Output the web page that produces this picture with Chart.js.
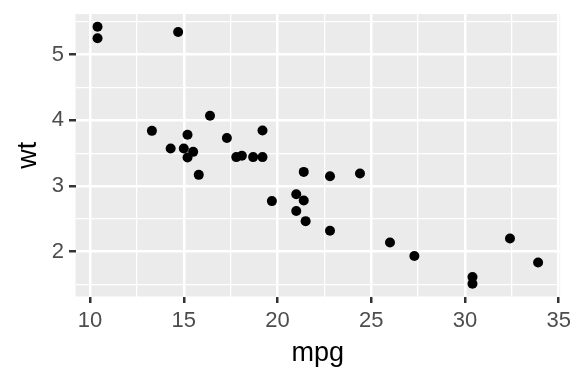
<!DOCTYPE html>
<html>
<head>
<meta charset="utf-8">
<script src="https://cdn.jsdelivr.net/npm/chart.js@4"></script>
<style>
  html, body { margin: 0; padding: 0; background: #fff; }
  #wrap { width: 576px; height: 384px; }
</style>
</head>
<body>
<div id="wrap"><canvas id="c" width="576" height="384"></canvas></div>
<script>
  // mtcars: mpg vs wt
  const mpg = [21.0, 21.0, 22.8, 21.4, 18.7, 18.1, 14.3, 24.4, 22.8, 19.2, 17.8, 16.4, 17.3, 15.2, 10.4, 10.4,
               14.7, 32.4, 30.4, 33.9, 21.5, 15.5, 15.2, 13.3, 19.2, 27.3, 26.0, 30.4, 15.8, 19.7, 15.0, 21.4];
  const wt = [2.620, 2.875, 2.320, 3.215, 3.440, 3.460, 3.570, 3.190, 3.150, 3.440, 3.440, 4.070, 3.730, 3.780, 5.250, 5.424,
              5.345, 2.200, 1.615, 1.835, 2.465, 3.520, 3.435, 3.840, 3.845, 1.935, 2.140, 1.513, 3.170, 2.770, 3.570, 2.780];

  const xMajor = [10, 15, 20, 25, 30, 35];
  const xMinor = [12.5, 17.5, 22.5, 27.5, 32.5];
  const yMajor = [2, 3, 4, 5];
  const yMinor = [1.5, 2.5, 3.5, 4.5, 5.5];

  const xMin = 9.225, xMax = 35.075;
  const yMin = 1.3175, yMax = 5.6195;

  const points = mpg.map((m, i) => ({ x: m, y: wt[i] }));

  const panelBg = {
    id: 'panelBg',
    beforeDraw(chart) {
      const a = chart.chartArea, ctx = chart.ctx;
      ctx.save();
      ctx.fillStyle = '#EBEBEB';
      ctx.fillRect(a.left, a.top, a.right - a.left, a.bottom - a.top);
      ctx.restore();
    }
  };

  function gridOpts(major) {
    const isMajor = ctx => ctx.tick && major.includes(ctx.tick.value);
    return {
      color: '#FFFFFF',
      lineWidth: ctx => isMajor(ctx) ? 2.5 : 1.25,
      tickColor: ctx => isMajor(ctx) ? '#333333' : 'rgba(0,0,0,0)',
      tickWidth: 2.5,
      tickLength: 6.5,
      drawTicks: true
    };
  }

  new Chart(document.getElementById('c'), {
    type: 'scatter',
    data: {
      datasets: [{
        data: points,
        backgroundColor: '#000000',
        borderWidth: 0,
        pointRadius: 5,
        pointHoverRadius: 5
      }]
    },
    options: {
      responsive: false,
      animation: false,
      devicePixelRatio: 1,
      layout: { padding: { top: 14, right: 15.6, left: 0, bottom: 0 } },
      plugins: { legend: { display: false }, tooltip: { enabled: false } },
      scales: {
        x: {
          type: 'linear',
          min: xMin, max: xMax,
          afterBuildTicks: s => { s.ticks = xMajor.concat(xMinor).sort((a, b) => a - b).map(v => ({ value: v })); },
          afterFit: s => { s.height = 87.5; },
          border: { display: false },
          grid: gridOpts(xMajor),
          ticks: {
            autoSkip: false, maxRotation: 0,
            padding: 5,
            color: '#4D4D4D',
            font: { family: 'Liberation Sans, Arial, sans-serif', size: 22 },
            callback: v => xMajor.includes(v) ? String(v) : ''
          },
          title: {
            display: true, text: 'mpg', color: '#000000',
            font: { family: 'Liberation Sans, Arial, sans-serif', size: 27 },
            padding: { top: 0, bottom: 14 }
          }
        },
        y: {
          type: 'linear',
          min: yMin, max: yMax,
          afterBuildTicks: s => { s.ticks = yMajor.concat(yMinor).sort((a, b) => a - b).map(v => ({ value: v })); },
          afterFit: s => { s.width = 75.5; s.paddingTop = 0; s.paddingBottom = 0; },
          border: { display: false },
          grid: gridOpts(yMajor),
          ticks: {
            autoSkip: false,
            padding: 5,
            color: '#4D4D4D',
            font: { family: 'Liberation Sans, Arial, sans-serif', size: 22 },
            callback: v => yMajor.includes(v) ? String(v) : ''
          },
          title: {
            display: true, text: 'wt', color: '#000000',
            font: { family: 'Liberation Sans, Arial, sans-serif', size: 27 },
            padding: { top: 12, bottom: 0 }
          }
        }
      }
    },
    plugins: [panelBg]
  });
</script>
</body>
</html>
